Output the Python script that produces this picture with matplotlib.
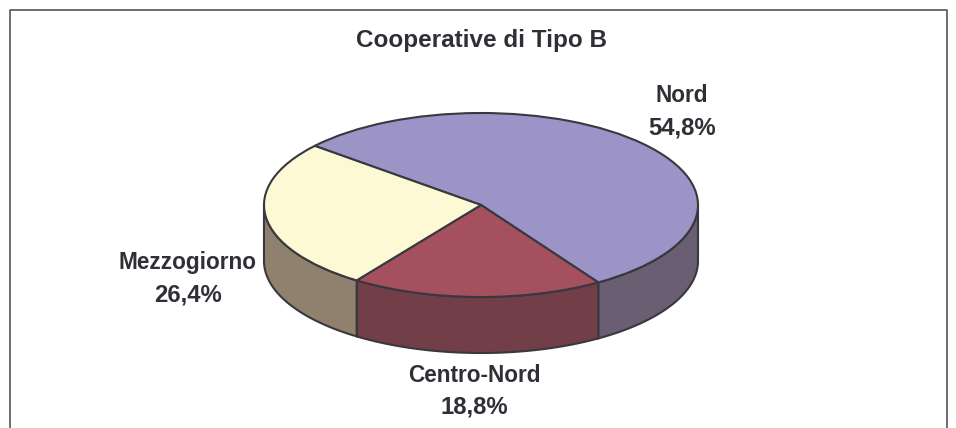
import numpy as np
import matplotlib
matplotlib.use('Agg')
import matplotlib.pyplot as plt

labels = ['Nord', 'Centro-Nord', 'Mezzogiorno']
values = [54.8, 18.8, 26.4]
top_colors = ['#9c93c6', '#a5505e', '#fef9d5']
side_colors = ['#6a5e72', '#723f48', '#90806e']
pct_labels = ['54,8%', '18,8%', '26,4%']
title = 'Cooperative di Tipo B'

W, H = 956, 428
cx, cy, rx, ry = 481, 205, 217, 92
depth = 56 / ry
start = 140
ink = '#38383f'
txt = '#2f2f36'

plt.rcParams['font.family'] = ['Liberation Sans']

fig = plt.figure(figsize=(W / 100, H / 100), dpi=100, facecolor='white')
ax = fig.add_axes([0, 0, 1, 1])

wedges, _ = ax.pie(values, colors=top_colors, startangle=start, counterclock=False,
                   wedgeprops={'edgecolor': ink, 'linewidth': 1.5})
for w in wedges:
    w.set_zorder(3)
ax.set_aspect('auto')
ax.set_xlim((0 - cx) / rx, (W - cx) / rx)
ax.set_ylim((cy - H) / ry, cy / ry)

# side wall, only the front half of the ellipse shows
a = start
for v, c in zip(values, side_colors):
    b = a - v * 3.6
    lo = max(b, -180)
    hi = min(a, 0)
    if hi > lo:
        t = np.radians(np.linspace(lo, hi, 120))
        xs = np.concatenate([np.cos(t), np.cos(t)[::-1]])
        ys = np.concatenate([np.sin(t), np.sin(t)[::-1] - depth])
        ax.fill(xs, ys, facecolor=c, edgecolor=ink, linewidth=1.5, zorder=2)
    a = b

# frame, bottom edge is cut off in the original
fr = dict(color='#555555', linewidth=1.2, transform=fig.transFigure, clip_on=False)
fx0, fx1 = 9.5 / W, 946.5 / W
fy = 1 - 10 / H
ax.plot([fx0, fx0, fx1, fx1], [0, fy, fy, 0], **fr)

fig.text(482 / W, 1 - 40 / H, title, fontsize=17.5, fontweight='bold', color=txt,
         ha='center', va='center')

label_pos = [(682, 95, 128), (474, 375, 407), (188, 263, 295)]
for name, pct, (x, y1, y2) in zip(labels, pct_labels, label_pos):
    fig.text(x / W, 1 - y1 / H, name, fontsize=16.3, fontweight='bold', color=txt,
             ha='center', va='center')
    fig.text(x / W, 1 - y2 / H, pct, fontsize=17.2, fontweight='bold', color=txt,
             ha='center', va='center')

fig.savefig('out.png', dpi=100)
